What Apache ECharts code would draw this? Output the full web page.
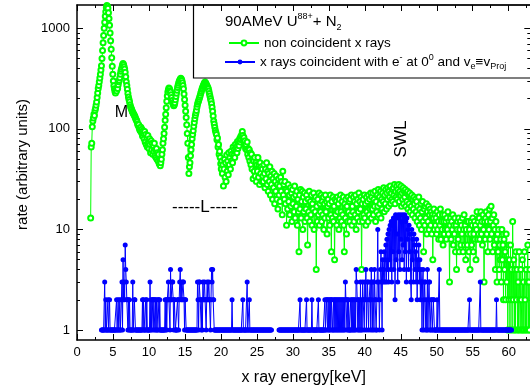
<!DOCTYPE html>
<html><head><meta charset="utf-8">
<script src="https://cdn.jsdelivr.net/npm/echarts@6/dist/echarts.min.js"></script>
<style>html,body{margin:0;padding:0;background:#fff}#c{width:530px;height:392px}</style>
</head><body><div id="c"></div>
<script>
// channel calibration (keV)
const energyStart = 1.9;
const energyStep = 0.075;
const blueStart = 3.4;

const greenName = 'non coincident x rays';
const blueName = 'x rays coincident with e- at 0 and ve=vProj';

// non coincident spectrum (counts per channel, 40 channels = 3 keV per line)
const greenCounts = [
13,66,72,105,120,128,140,136,152,160,172,185,205,228,252,270,295,320,350,385,425,500,600,720,850,1000,1150,1320,1460,1600,1690,1660,1580,1430,1250,1070,900,750,620,510,
420,350,300,268,250,236,228,245,238,255,252,275,295,305,322,350,375,392,410,432,448,435,415,395,365,330,295,270,248,225,208,196,186,174,166,160,156,150,146,142,
140,136,133,128,124,122,118,112,108,110,102,98,96,104,92,99,85,95,90,80,94,74,88,70,82,66,86,72,64,80,70,58,76,62,72,56,68,60,72,54,
62,52,64,50,58,48,56,45,50,43,46,50,56,62,72,80,90,104,122,140,162,188,212,232,245,255,250,240,232,218,205,192,182,176,170,174,182,195,210,226,
242,258,272,284,296,305,312,318,314,302,288,270,250,222,196,172,150,130,110,90,72,52,36,42,46,54,62,70,80,88,96,106,116,126,136,144,152,165,176,184,
190,198,206,215,226,236,246,255,264,272,280,288,292,286,280,272,266,258,250,238,225,212,200,190,178,164,150,134,120,112,104,97,92,88,78,81,66,70,56,60,
52,45,40,48,36,44,27,40,50,33,46,30,55,38,48,35,58,44,52,40,60,48,56,46,66,54,62,52,70,60,66,58,75,64,72,68,80,74,84,78,
88,94,86,78,82,70,76,64,70,62,74,56,64,52,62,48,58,44,56,40,50,32,48,38,52,34,46,30,44,38,52,33,44,28,46,36,42,30,40,34,
30,44,36,26,40,32,46,28,38,24,36,30,42,22,34,28,38,20,32,26,36,18,30,24,34,20,28,16,32,22,27,19,33,24,30,14,38,22,28,20,
30,18,25,11,24,16,28,19,22,14,26,17,23,12,25,18,21,15,27,13,22,17,24,11,20,15,6,22,16,25,13,19,24,10,21,15,23,12,19,16,
22,13,7,20,15,24,12,19,14,22,11,18,16,23,10,20,15,21,4,17,12,20,14,23,11,18,15,22,12,19,14,21,10,18,13,22,15,19,9,17,
20,13,18,11,22,14,6,19,13,21,12,17,5,20,14,19,11,21,15,18,10,20,13,22,15,12,19,14,21,11,6,18,13,20,9,17,12,21,15,19,
12,20,14,22,11,17,15,21,12,19,14,22,10,18,13,20,15,23,12,19,16,21,4,18,12,20,14,22,13,18,11,21,15,19,12,22,14,20,16,23,
13,21,16,23,14,20,17,24,12,19,15,22,17,25,14,21,18,24,13,20,16,23,19,26,15,22,18,25,16,23,20,26,17,24,21,27,18,23,20,25,
19,26,22,28,18,24,21,27,20,25,23,28,19,24,22,27,17,23,20,26,18,24,21,25,17,23,19,24,16,22,18,23,15,21,17,22,14,20,16,21,
18,13,20,15,19,12,17,14,21,11,16,13,18,10,15,19,12,6,16,11,17,13,18,9,15,12,17,10,14,16,11,15,9,14,5,13,16,10,14,11,
13,9,15,10,12,8,14,11,16,8,12,10,14,7,12,9,14,10,12,8,13,10,15,9,12,3,11,13,8,12,10,14,7,11,9,13,6,11,4,10,
12,8,13,6,10,12,7,11,9,13,6,10,14,7,11,5,10,12,7,9,12,6,10,4,9,12,7,11,13,6,9,12,8,11,5,10,15,8,12,9,
13,8,11,15,9,12,7,14,10,3,12,8,13,15,9,12,6,14,10,16,8,12,17,9,13,6,11,14,7,10,4,12,8,3,9,6,10,4,7,5,
8,3,10,5,7,2,8,4,6,2,9,3,5,1,7,2,5,1,7,2,4,1,12,2,5,1,4,1,6,2,4,1,3,1,6,2,1,4,2,1,
5,1,3,1,6,2,1,4,1,3,7,1,3,1,4
];

// coincident spectrum (counts per channel from 3.4 keV, 40 channels per line; null = no count)
const blueCounts = [
1,1,1,1,1,1,3,1,2,1,1,1,2,1,1,2,1,1,1,1,1,1,1,1,1,1,1,1,2,1,1,2,1,1,2,1,1,2,3,1,
5,2,3,2,7,4,3,2,2,1,2,1,2,1,1,1,1,1,3,1,1,2,2,1,1,1,1,1,1,1,1,1,1,1,1,1,2,1,2,1,
1,1,2,1,2,1,1,1,1,1,3,1,2,1,2,2,1,2,2,1,2,1,2,1,1,2,2,1,2,1,1,1,1,1,1,1,1,1,2,1,
2,1,2,2,3,2,2,1,4,2,2,3,3,2,1,2,2,1,1,1,1,2,2,1,2,3,4,2,3,2,2,3,3,2,1,2,2,1,1,1,
1,1,1,1,1,1,1,1,1,1,1,1,1,1,1,1,1,1,3,2,1,3,3,2,2,1,2,1,3,2,2,3,2,2,1,2,3,2,2,3,
2,2,1,2,4,3,4,2,2,1,1,1,1,1,1,1,1,1,1,1,1,1,1,1,1,1,1,1,1,1,1,1,1,1,1,1,1,1,1,1,
1,1,2,1,1,1,1,1,1,1,1,1,1,1,1,1,1,1,1,1,1,1,2,1,1,1,1,1,1,1,3,1,1,1,2,1,1,1,1,1,
1,1,1,1,1,1,1,1,1,1,1,1,1,1,1,1,1,1,1,1,1,1,1,1,1,1,1,1,1,1,1,1,1,1,1,1,null,null,null,null,
null,null,null,null,null,null,null,null,null,1,1,1,1,1,1,1,1,1,1,1,1,1,1,1,1,1,1,1,1,1,1,1,1,1,1,1,1,1,1,1,
1,1,1,1,1,1,1,1,2,1,1,1,1,1,1,1,1,1,1,1,2,1,1,1,1,1,1,1,1,1,2,1,1,1,1,1,1,1,1,1,
1,1,2,1,1,1,1,1,1,1,1,1,1,1,2,1,1,2,2,1,2,1,2,1,2,1,2,2,1,1,2,1,2,1,2,1,2,1,2,1,
2,1,2,1,2,1,2,1,2,1,2,1,3,2,2,1,2,1,2,1,1,1,2,1,2,1,2,1,2,1,2,1,4,3,2,1,2,1,2,1,
3,1,2,1,3,2,2,1,3,2,4,1,2,3,3,1,2,2,3,1,4,2,1,3,3,1,4,2,2,1,1,3,10,2,3,1,2,4,6,3,
1,5,3,4,6,3,5,7,3,8,4,9,3,10,5,11,4,12,3,11,6,13,4,12,2,14,5,13,9,3,14,6,13,4,14,8,12,5,14,7,
13,4,14,6,12,3,13,8,10,4,11,6,9,3,2,10,5,8,3,9,7,4,6,3,8,2,5,4,7,3,5,2,4,3,1,3,4,1,2,3,
3,1,2,1,4,1,2,3,3,1,1,2,2,1,1,2,2,1,1,1,1,1,2,1,1,1,4,1,1,1,1,1,1,1,1,1,1,1,1,1,
1,1,1,1,1,1,1,1,1,1,1,1,1,1,1,1,1,1,1,1,1,1,1,1,1,1,1,1,1,1,1,1,1,1,1,1,1,1,1,1,
1,1,2,1,1,1,1,1,1,1,1,1,1,1,1,1,1,1,1,1,1,1,3,1,1,1,1,1,1,1,1,1,1,1,1,1,1,1,1,1,
1,1,1,1,1,1,1,1,1,1,1,1,2,1,1,1,1,1,1,1,1,1,1,1,1,1,1,1,1,1,1,1,1,1,1,1,1,1,1,1,
1
];

const xMajorTicks = [0,5,10,15,20,25,30,35,40,45,50,55,60];
const xMinorTicks = [2.5,7.5,12.5,17.5,22.5,27.5,32.5,37.5,42.5,47.5,52.5,57.5,62.5];
const yMajorTicks = [1,10,100,1000];
const yMinorTicks = [2,3,4,5,6,7,8,9,20,30,40,50,60,70,80,90,200,300,400,500,600,700,800,900];

const FONT = '"Liberation Sans", Arial, sans-serif';
const xMin = 0, xMax = 63, yMin = 0.796, yMax = 1705;

const greenData = greenCounts.map((v, i) => [+(energyStart + i * energyStep).toFixed(3), v]);
const blueData = blueCounts.map((v, i) => [+(blueStart + i * energyStep).toFixed(3), v == null ? '-' : v]);

function xAx(pos, ticks, len, showLine, showLabel, extra) {
  return Object.assign({
    type: 'value', min: xMin, max: xMax, position: pos, gridIndex: 0,
    axisLine: {show: showLine, onZero: false, lineStyle: {color: '#000', width: 1.5}},
    axisTick: {show: true, inside: true, length: len, customValues: ticks, lineStyle: {color: '#000', width: 1}},
    axisLabel: {show: showLabel, customValues: ticks, color: '#000', fontSize: 13, fontFamily: FONT, margin: 6,
      formatter: v => String(v)},
    splitLine: {show: false}, minorTick: {show: false}
  }, extra || {});
}
function yAx(pos, ticks, len, showLine, showLabel, extra) {
  return Object.assign({
    type: 'log', logBase: 10, min: yMin, max: yMax, position: pos, gridIndex: 0,
    axisLine: {show: showLine, onZero: false, lineStyle: {color: '#000', width: 1.5}},
    axisTick: {show: true, inside: true, length: len, customValues: ticks, lineStyle: {color: '#000', width: 1}},
    axisLabel: {show: showLabel, customValues: ticks, color: '#000', fontSize: 13, fontFamily: FONT, margin: 7,
      formatter: v => String(Math.round(v))},
    splitLine: {show: false}, minorTick: {show: false}
  }, extra || {});
}

const chart = echarts.init(document.getElementById('c'), null, {renderer: 'canvas'});
const supRich = {
  a: {fontSize: 13.5, fontFamily: FONT, color: '#000', lineHeight: 18},
  sup: {fontSize: 9, fontFamily: FONT, color: '#000', verticalAlign: 'top'},
  sub: {fontSize: 9, fontFamily: FONT, color: '#000', verticalAlign: 'bottom'}
};
chart.setOption({
  animation: false,
  backgroundColor: '#fff',
  grid: {left: 77, top: 5, width: 453.3, height: 335, outerBoundsMode: 'none', containLabel: false},
  xAxis: [
    xAx('bottom', xMajorTicks, 6, true, true, {
      name: 'x ray energy[keV]', nameLocation: 'middle', nameGap: 30,
      nameTextStyle: {fontSize: 16, fontFamily: FONT, color: '#000'}
    }),
    xAx('bottom', xMinorTicks, 3, false, false),
    xAx('top', xMajorTicks, 6, true, false),
    xAx('top', xMinorTicks, 3, false, false)
  ],
  yAxis: [
    yAx('left', yMajorTicks, 6, true, true, {
      name: 'rate (arbitrary units)', nameLocation: 'middle', nameGap: 42,
      nameTextStyle: {fontSize: 15, fontFamily: FONT, color: '#000', padding: [0, 0, 0, 16]}
    }),
    yAx('left', yMinorTicks, 3, false, false),
    yAx('right', yMajorTicks, 6, false, false),
    yAx('right', yMinorTicks, 3, false, false)
  ],
  legend: [
    {data: [greenName], left: 228, top: 36, orient: 'vertical', padding: 0,
     itemWidth: 30, itemHeight: 6, selectedMode: false,
     textStyle: {fontSize: 13.5, fontFamily: FONT, color: '#000'}},
    {data: [blueName], left: 224, top: 53, orient: 'vertical', padding: 0,
     itemWidth: 30, itemHeight: 6, selectedMode: false,
     formatter: () => '{a|x rays coincident with e}{sup|-}{a| at 0}{sup|0}{a| and v}{sub|e}{a|\u2261v}{sub|Proj}',
     textStyle: {fontSize: 13.5, fontFamily: FONT, color: '#000', rich: supRich}}
  ],
  graphic: [
    {type: 'rect', z: 100, shape: {x: 193.5, y: 5, width: 400, height: 73}, style: {fill: 'none', stroke: '#000', lineWidth: 1.2}},
    {type: 'text', z: 100, x: 225, y: 22, style: {
      text: '{a|90AMeV U}{sup|88+}{a|+ N}{sub|2}', align: 'left', verticalAlign: 'middle',
      rich: {
        a: {fontSize: 15, fontFamily: FONT, color: '#000', lineHeight: 20},
        sup: {fontSize: 9, fontFamily: FONT, color: '#000', verticalAlign: 'top'},
        sub: {fontSize: 9, fontFamily: FONT, color: '#000', verticalAlign: 'bottom'}
      }}},
    {type: 'text', z: 100, x: 121.5, y: 112.5, style: {text: 'M', font: '16px ' + FONT, fill: '#000', align: 'center', verticalAlign: 'middle'}},
    {type: 'text', z: 100, x: 205, y: 207, style: {text: '-----L-----', font: '17px ' + FONT, fill: '#000', align: 'center', verticalAlign: 'middle'}},
    {type: 'text', z: 100, x: 401, y: 139, rotation: Math.PI / 2, style: {text: 'SWL', font: '17px ' + FONT, fill: '#000', align: 'center', verticalAlign: 'middle'}}
  ],
  series: [
    {name: greenName, type: 'line', xAxisIndex: 0, yAxisIndex: 0, data: greenData,
     symbol: 'emptyCircle', symbolSize: 5, showSymbol: true, showAllSymbol: true,
     lineStyle: {color: '#00ff00', width: 1}, itemStyle: {color: '#00ff00', borderWidth: 1},
     emphasis: {disabled: true}, silent: true, z: 2},
    {name: blueName, type: 'line', xAxisIndex: 0, yAxisIndex: 0, data: blueData,
     symbol: 'circle', symbolSize: 5, showSymbol: true, showAllSymbol: true, connectNulls: false,
     lineStyle: {color: '#0000ff', width: 1}, itemStyle: {color: '#0000ff'},
     emphasis: {disabled: true}, silent: true, z: 3}
  ]
});
</script>
</body></html>
